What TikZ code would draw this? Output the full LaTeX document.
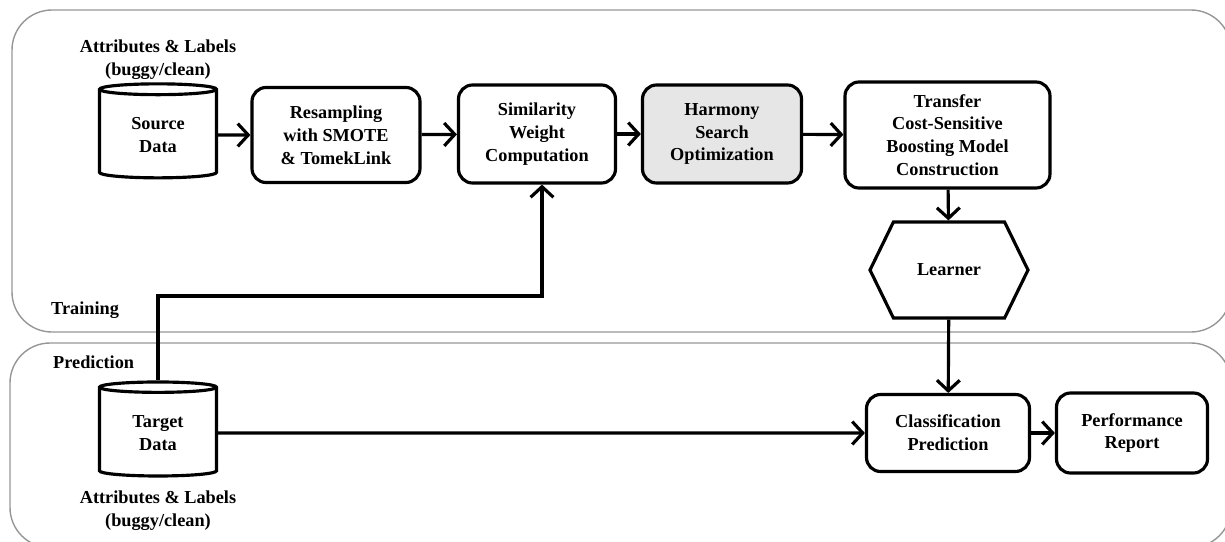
\documentclass[tikz,border=0pt]{standalone}
\usepackage{fontspec}
\setmainfont{Liberation Serif}
\usepackage{tikz}
\usetikzlibrary{arrows.meta, shapes, positioning, calc}
\definecolor{panelgray}{RGB}{150,150,150}
\definecolor{hsfill}{RGB}{230,230,230}

\begin{document}
\begin{tikzpicture}[
  box/.style={draw, rounded corners=8pt, line width=1.8pt, align=center,
              font=\fontsize{10.4}{13}\selectfont\bfseries, inner sep=2pt},
  db/.style={draw, cylinder, shape border rotate=90, aspect=0.19, line width=1.8pt,
             align=center, font=\fontsize{10.4}{13}\selectfont\bfseries,
             minimum width=2.34cm, minimum height=1.88cm, inner sep=1pt},
  hexa/.style={draw, signal, signal to=west and east, signal from=nowhere,
               signal pointer angle=128, line width=1.8pt,
               font=\fontsize{10.4}{13}\selectfont\bfseries,
               minimum width=3.16cm, minimum height=1.92cm},
  panel/.style={draw=panelgray, line width=0.8pt, rounded corners=0.8cm},
  arr/.style={-{Straight Barb[length=6pt, width=13pt, line width=1.8pt]}, line width=1.8pt},
  lbl/.style={align=center, font=\fontsize{10.4}{13}\selectfont\bfseries},
  plbl/.style={anchor=west, font=\fontsize{10.4}{13}\selectfont\bfseries},
]
\useasboundingbox (0,0) rectangle (24.5,-10.82);

% PANELS
\draw[panel] (0.24,-0.2) rectangle (24.62,-6.64);
\draw[panel] (0.2,-6.86) rectangle (24.62,-10.95);
\node[plbl] (train) at (0.9,-6.2) {Training};
\node[plbl] (pred)  at (0.94,-7.24) {Prediction};

% TRAINING
\node[db] (src) at (3.16,-2.7) {Source\\Data};
\node[lbl] (srclbl) at (3.16,-1.2) {Attributes \& Labels\\(buggy/clean)};
\node[box, minimum width=3.36cm, minimum height=1.9cm] (resample) at (6.72,-2.7)
  {Resampling\\with SMOTE\\\& TomekLink};
\node[box, minimum width=3.14cm, minimum height=1.96cm] (simil) at (10.74,-2.68)
  {Similarity\\Weight\\Computation};
\node[box, fill=hsfill, minimum width=3.18cm, minimum height=1.96cm] (harmony) at (14.44,-2.68)
  {Harmony\\Search\\Optimization};
\node[box, minimum width=4.1cm, minimum height=2.12cm] (transfer) at (18.95,-2.7)
  {Transfer\\Cost-Sensitive\\Boosting Model\\Construction};
\node[hexa] (learner) at (18.98,-5.4) {Learner};

% PREDICTION
\node[db] (tgt) at (3.16,-8.66) {Target\\Data};
\node[lbl] (tgtlbl) at (3.16,-10.22) {Attributes \& Labels\\(buggy/clean)};
\node[box, minimum width=3.26cm, minimum height=1.54cm] (classif) at (18.96,-8.66)
  {Classification\\Prediction};
\node[box, minimum width=3.02cm, minimum height=1.6cm] (perf) at (22.64,-8.66)
  {Performance\\Report};
\coordinate (turn) at (10.84,-5.92);

\draw[arr] (src) -- (resample);
\draw[arr] (resample) -- (simil);
\draw[arr] (simil) -- (harmony);
\draw[arr] (harmony) -- (transfer);
\draw[arr] (transfer) -- (learner);
\draw[arr] (learner) -- (classif);
\draw[arr] (tgt) -- (classif);
\draw[arr] (classif) -- (perf);
\draw[arr] (tgt.north) |- (turn) -- (turn |- simil.south);

\end{tikzpicture}
\end{document}
